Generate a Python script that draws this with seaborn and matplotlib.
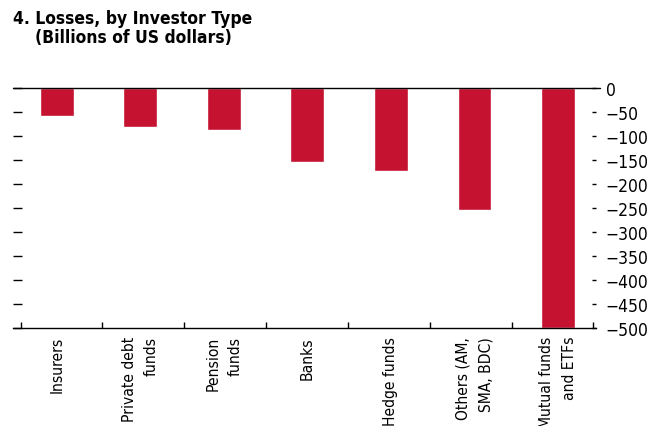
import matplotlib
matplotlib.use("Agg")
import matplotlib.pyplot as plt
import seaborn as sns
import pandas as pd

categories = ["Insurers", "Private debt\nfunds", "Pension\nfunds", "Banks",
              "Hedge funds", "Others (AM,\nSMA, BDC)", "Mutual funds\nand ETFs"]
losses = [-57, -80, -86, -153, -172, -253, -500]
y_ticks = [0, -50, -100, -150, -200, -250, -300, -350, -400, -450, -500]

sns.set_theme(style="white")
plt.rcParams["font.family"] = ["Liberation Sans Narrow", "DejaVu Sans"]
plt.rcParams["font.stretch"] = "condensed"
plt.rcParams["text.color"] = "black"
plt.rcParams["xtick.color"] = "black"
plt.rcParams["ytick.color"] = "black"

df = pd.DataFrame({"investor": categories, "loss": losses})

fig = plt.figure(figsize=(6.6, 4.27), dpi=100)
ax = fig.add_axes([13.3 / 660, 1 - 329.3 / 427, (596 - 13.3) / 660, 240 / 427])

sns.barplot(data=df, x="investor", y="loss", color="#C41230", width=0.407,
            saturation=1, ax=ax)

ax.set_xlim(-0.523, 6.455)
ax.set_ylim(-500, 0)
ax.set_xlabel("")
ax.set_ylabel("")

for s in ["top", "left", "right"]:
    ax.spines[s].set_visible(False)
ax.spines["bottom"].set_color("black")
ax.spines["bottom"].set_linewidth(1.0)

# zero line extending to the right-hand scale
ax.axhline(0, xmin=0, xmax=1.007, color="black", lw=1.0, clip_on=False, zorder=3)

# category labels, rotated
ax.set_xticks(range(len(categories)))
ax.set_xticklabels(categories, rotation=90, va="top", ha="center",
                   multialignment="right", fontsize=11.2, linespacing=1.6)
ax.tick_params(axis="x", which="major", length=0, pad=5.5)
ax.set_xticks([-0.435 + 0.98 * k for k in range(8)], minor=True)
ax.tick_params(axis="x", which="minor", direction="in", length=4.5,
               width=1.0, color="black", bottom=True)

# left: tick marks only
ax.set_yticks(y_ticks)
ax.tick_params(axis="y", left=True, right=False, labelleft=False,
               direction="in", length=6.5, width=1.0, color="black")

# right: tick marks with labels
sec = ax.secondary_yaxis("right")
sec.set_yticks(y_ticks)
sec.spines["right"].set_visible(False)
sec.tick_params(axis="y", direction="in", length=3, width=1.0,
                color="black", pad=7, labelsize=12.5)

fig.text(13 / 660, 1 - 24.5 / 427, "4. Losses, by Investor Type",
         fontsize=12.5, fontweight="bold", va="baseline", ha="left")
fig.text(35 / 660, 1 - 43 / 427, "(Billions of US dollars)",
         fontsize=12.5, fontweight="bold", va="baseline", ha="left")

fig.savefig("out.png", dpi=100)
